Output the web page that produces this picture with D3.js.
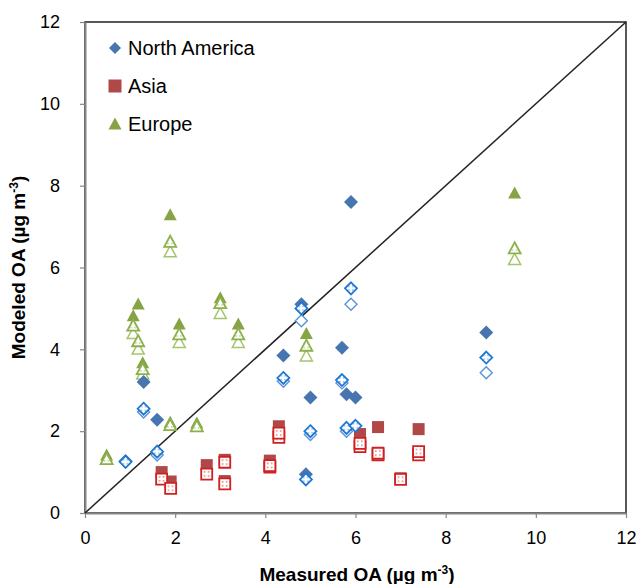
<!DOCTYPE html>
<html>
<head>
<meta charset="utf-8">
<script src="https://cdn.jsdelivr.net/npm/d3@7"></script>
<style>
  body { margin: 0; background: #fff; }
  text { font-family: "Liberation Sans", Arial, sans-serif; }
</style>
</head>
<body>
<script>
// --- Constants ---
const W = 641, H = 584;
const X0 = 85, X1 = 626, Y0 = 513, Y1 = 22;

// --- Data ---
const xTicks = [0, 2, 4, 6, 8, 10, 12];
const yTicks = [0, 2, 4, 6, 8, 10, 12];

// North America: measured, modeled (base / patterned / open)
const naX       = [0.9, 1.3, 1.6, 4.4, 4.8, 4.9, 5.0, 5.7, 5.8, 5.9, 6.0, 8.9];
const naFilled  = [1.27, 3.2, 2.28, 3.85, 5.1, 0.95, 2.82, 4.04, 2.9, 7.6, 2.82, 4.41];
const naPattern = [1.25, 2.55, 1.5, 3.3, 5.0, 0.82, 2.0, 3.25, 2.08, 5.49, 2.13, 3.8];
const naOpen    = [null, 2.47, 1.42, 3.22, 4.7, null, 1.92, 3.18, 2.0, 5.1, null, 3.43];

// Asia
const asiaX        = [1.7, 1.9, 2.7, 3.1, 3.1, 4.1, 4.3, 6.1, 6.5, 7.0, 7.4];
const asiaFilled   = [1.0, 0.77, 1.17, 1.3, 0.78, 1.28, 2.12, 1.93, 2.1, 0.85, 2.05];
const asiaPattern  = [0.83, 0.6, 0.95, 1.24, 0.71, 1.16, 1.95, 1.7, 1.46, 0.82, 1.5];
const asiaPattern2 = [null, null, null, null, null, 1.12, 1.85, 1.62, 1.42, null, 1.42];

// Europe
const euX       = [0.48, 1.07, 1.18, 1.28, 1.89, 1.89, 2.09, 2.48, 3.0, 3.4, 4.91, 9.53];
const euFilled  = [1.42, 4.82, 5.11, 3.67, 7.29, 2.22, 4.62, 2.2, 5.26, 4.62, 4.39, 7.82];
const euPattern = [1.32, 4.58, 4.2, 3.52, 6.63, 2.15, 4.37, 2.12, 5.13, 4.37, 4.09, 6.47];
const euOpen    = [null, 4.39, 4.01, 3.4, 6.39, null, 4.17, null, 4.88, 4.17, 3.84, 6.2];

const legendNames = ["North America", "Asia", "Europe"];

// --- SVG Setup ---
const svg = d3.select("body").append("svg")
  .attr("width", W).attr("height", H);

const x = d3.scaleLinear().domain([0, 12]).range([X0, X1]);
const y = d3.scaleLinear().domain([0, 12]).range([Y0, Y1]);

// Dot patterns for the textured markers
const defs = svg.append("defs");
function addPattern(id, color) {
  const p = defs.append("pattern").attr("id", id)
    .attr("patternUnits", "userSpaceOnUse").attr("width", 4).attr("height", 4);
  p.append("rect").attr("width", 4).attr("height", 4).attr("fill", "#fff");
  p.append("rect").attr("x", 1).attr("y", 1).attr("width", 1.6).attr("height", 1.6)
    .attr("fill", color).attr("opacity", 0.55);
}
addPattern("pat-na", "#1f78d1");
addPattern("pat-asia", "#d42020");
addPattern("pat-eu", "#7fa83a");

// --- Shapes ---
function diamond(s) { return `M0,${-s}L${s},0L0,${s}L${-s},0Z`; }
function square(s) { return `M${-s},${-s}h${2 * s}v${2 * s}h${-2 * s}Z`; }
function triangle(s) { return `M0,${-s}L${s},${s * 0.85}L${-s},${s * 0.85}Z`; }

// Frame
svg.append("rect")
  .attr("x", X0).attr("y", Y1)
  .attr("width", X1 - X0).attr("height", Y0 - Y1)
  .attr("fill", "none").attr("stroke", "#222").attr("stroke-width", 1.5);

// Axes
const xAxis = svg.append("g")
  .attr("transform", `translate(0,${Y0})`)
  .call(d3.axisBottom(x).tickValues(xTicks).tickSize(5).tickSizeOuter(0).tickPadding(13));
const yAxis = svg.append("g")
  .attr("transform", `translate(${X0},0)`)
  .call(d3.axisLeft(y).tickValues(yTicks).tickSize(5).tickSizeOuter(0).tickPadding(20));

[xAxis, yAxis].forEach(g => {
  g.select(".domain").attr("stroke", "#868686").attr("stroke-width", 2);
  g.selectAll(".tick line").attr("stroke", "#868686").attr("stroke-width", 1.2);
  g.selectAll(".tick text")
    .attr("font-family", "Liberation Sans, Arial, sans-serif")
    .attr("font-size", 18).attr("fill", "#000");
});

// 1:1 line
svg.append("line")
  .attr("x1", x(0)).attr("y1", y(0))
  .attr("x2", x(12)).attr("y2", y(12))
  .attr("stroke", "#222").attr("stroke-width", 1.5);

// --- Markers ---
function drawSeries(xs, ys, shape, size, fill, stroke, sw) {
  const pts = xs.map((d, i) => ({ x: d, y: ys[i] })).filter(d => d.y !== null);
  svg.append("g").selectAll("path").data(pts).enter()
    .append("path")
    .attr("d", shape(size))
    .attr("transform", d => `translate(${x(d.x)},${y(d.y)})`)
    .attr("fill", fill)
    .attr("stroke", stroke)
    .attr("stroke-width", sw);
}

// Europe
drawSeries(euX, euFilled, triangle, 6.5, "#86a345", "none", 0);
drawSeries(euX, euOpen, triangle, 6, "#fff", "#a6c46e", 1.5);
drawSeries(euX, euPattern, triangle, 6, "url(#pat-eu)", "#8cb04c", 1.8);

// Asia
drawSeries(asiaX, asiaFilled, square, 6, "#b04848", "none", 0);
drawSeries(asiaX, asiaPattern2, square, 5.5, "url(#pat-asia)", "#d02020", 1.8);
drawSeries(asiaX, asiaPattern, square, 5.5, "url(#pat-asia)", "#d02020", 1.8);

// North America
drawSeries(naX, naFilled, diamond, 7, "#4675b0", "none", 0);
drawSeries(naX, naOpen, diamond, 6, "#fff", "#5b93d8", 1.4);
drawSeries(naX, naPattern, diamond, 6, "url(#pat-na)", "#1f78d1", 1.8);

// --- Legend ---
const legendShapes = [diamond(6), square(6.5), triangle(6.5)];
const legendColors = ["#4675b0", "#b04848", "#86a345"];
const legend = svg.append("g");
legendNames.forEach((name, i) => {
  const ly = 48 + i * 38;
  legend.append("path")
    .attr("d", legendShapes[i])
    .attr("transform", `translate(115,${ly})`)
    .attr("fill", legendColors[i]);
  legend.append("text")
    .attr("x", 128).attr("y", ly + 7)
    .attr("font-size", 20).attr("fill", "#000")
    .text(name);
});

// --- Axis titles ---
const xt = svg.append("text")
  .attr("x", 357).attr("y", 581)
  .attr("text-anchor", "middle")
  .attr("font-size", 19).attr("font-weight", "bold");
xt.append("tspan").text("Measured OA (\u00b5g m");
xt.append("tspan").attr("dy", -7).attr("font-size", 12).text("-3");
xt.append("tspan").attr("dy", 7).text(")");

const yt = svg.append("text")
  .attr("transform", `translate(25,${(Y0 + Y1) / 2}) rotate(-90)`)
  .attr("text-anchor", "middle")
  .attr("font-size", 19).attr("font-weight", "bold");
yt.append("tspan").text("Modeled OA (\u00b5g m");
yt.append("tspan").attr("dy", -7).attr("font-size", 12).text("-3");
yt.append("tspan").attr("dy", 7).text(")");
</script>
</body>
</html>
